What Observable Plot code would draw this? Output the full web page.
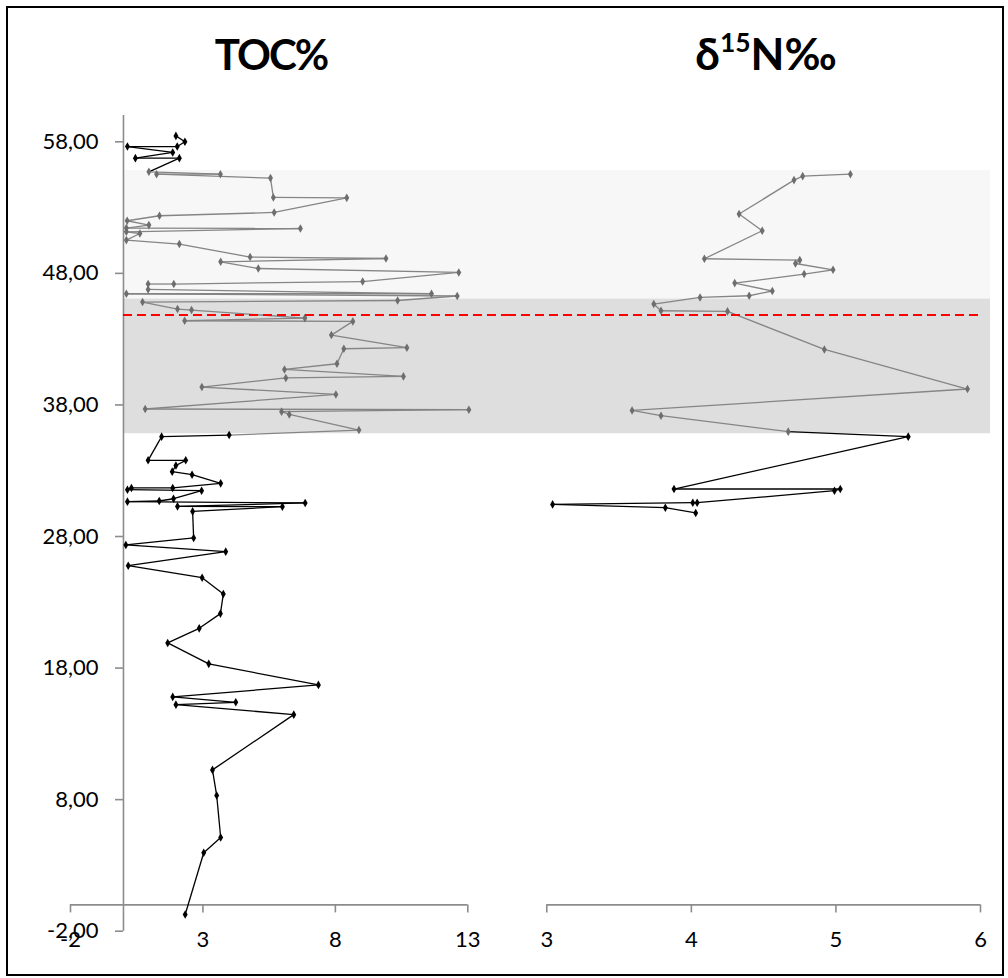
<!DOCTYPE html>
<html>
<head>
<meta charset="utf-8">
<script src="https://cdn.jsdelivr.net/npm/d3@7"></script>
<script src="https://cdn.jsdelivr.net/npm/@observablehq/plot@0.6"></script>
<style>
  body { margin: 0; background: #fff; }
  #chart { position: relative; width: 1008px; height: 978px; background: #fff; font-family: Lato, "Open Sans", sans-serif; overflow: hidden; }
  #border { position: absolute; left: 6px; top: 6px; width: 998px; height: 970px; box-sizing: border-box; border: 2px solid #000; pointer-events: none; z-index: 3; }
  .title { position: absolute; top: 31px; font-weight: 700; font-size: 44px; line-height: 44px; white-space: nowrap; transform: translateX(-50%); z-index: 2; color: #000; }
  .title.narrow { font-size: 42px; letter-spacing: -2px; top: 32px; }
  .title sup { font-size: 0.6em; line-height: 0; position: relative; top: -0.1em; }
  #chart svg { position: absolute; top: 0; }
</style>
</head>
<body>
<div id="chart">
  <div class="title narrow" style="left:271px">TOC%</div>
  <div class="title" style="left:766px">δ<sup>15</sup>N‰</div>
  <div id="left"></div>
  <div id="right"></div>
  <div id="border"></div>
</div>
<script>
// Core depths (top-down) and total organic carbon, %
const tocDepth = [58.45, 58.00, 57.64, 57.64, 57.19, 56.76, 56.76,
  55.72, 55.54, 55.54, 55.24, 53.77, 53.74, 52.63, 52.38, 52.00, 51.67,
  51.44, 51.41, 51.16, 51.03, 50.53, 50.23, 49.24, 49.13, 48.88, 48.37,
  48.07, 47.38, 47.19, 47.19, 46.78, 46.45, 46.45, 46.28, 45.94, 45.82,
  45.29, 45.21, 44.60, 44.40, 44.35, 43.31, 42.35, 42.27, 41.13, 40.70,
  40.17, 40.05, 39.36, 38.80, 37.69, 37.64, 37.49, 37.28, 36.09, 35.71,
  35.59, 33.79, 33.79, 33.40, 32.93, 32.70, 32.04, 31.69, 31.69, 31.56,
  31.48, 30.87, 30.70, 30.65, 30.55, 30.29, 30.27, 29.91, 27.89, 27.36,
  26.85, 25.78, 24.87, 23.63, 22.14, 21.02, 19.91, 18.32, 16.72, 15.81,
  15.40, 15.22, 14.46, 10.26, 8.31, 5.12, 3.96, -0.73];
const toc = [1.98, 2.32, 2.03, 0.15, 1.86, 0.45, 2.11,
  0.96, 3.66, 1.25, 5.55, 5.66, 8.43, 5.69, 1.36, 0.14, 0.96,
  0.11, 6.68, 0.11, 0.62, 0.11, 2.11, 4.78, 9.91, 3.67, 5.09,
  12.66, 9.03, 1.90, 0.93, 0.93, 11.63, 0.11, 12.60, 10.35, 0.72,
  2.04, 2.57, 6.85, 2.31, 8.66, 7.85, 10.70, 8.32, 8.06, 6.08,
  10.57, 6.13, 2.96, 8.02, 0.82, 13.04, 5.97, 6.26, 8.89, 3.99,
  1.44, 0.93, 2.35, 1.98, 1.84, 2.59, 3.67, 1.86, 0.30, 0.15,
  2.95, 1.89, 1.35, 0.15, 6.86, 2.04, 6.00, 2.61, 2.65, 0.09,
  3.86, 0.18, 2.97, 3.77, 3.66, 2.86, 1.67, 3.22, 7.36, 1.86,
  4.24, 1.98, 6.43, 3.36, 3.52, 3.67, 3.03, 2.33];

// Core depths (top-down) and nitrogen isotope ratio, ‰
const d15nDepth = [55.54, 55.39, 55.09, 52.51, 51.24, 49.11, 49.01, 48.75,
  48.27, 47.95, 47.26, 46.66, 46.30, 46.17, 45.67, 45.16, 45.11, 42.22,
  39.21, 37.58, 37.18, 35.97, 35.59, 31.61, 31.61, 31.48, 30.57, 30.57,
  30.44, 30.19, 29.79];
const d15n = [5.10, 4.77, 4.71, 4.33, 4.49, 4.09, 4.75, 4.72,
  4.98, 4.78, 4.30, 4.56, 4.40, 4.06, 3.74, 3.79, 4.25, 4.92,
  5.91, 3.59, 3.79, 4.67, 5.50, 3.88, 5.03, 4.99, 4.04, 4.01,
  3.04, 3.82, 4.03];

// Shaded depth intervals and the boundary marked with a dashed line
const bandNames = ["upper", "lower"];
const bandBase = [46.05, 35.81];
const bandTopDepth = [55.82, 46.05];
const boundaryDepth = [44.84];

// Axis ticks
const depthTicks = [-2, 8, 18, 28, 38, 48, 58];
const tocTicks = [-2, 3, 8, 13];
const d15nTicks = [3, 4, 5, 6];

const depthDomain = [-2, 60];
const tocDomain = [-2, 13];
const d15nDomain = [3, 6];

const BLACK = "#000000";
const GRAY_LINE = "#858585";
const GRAY_DOT = "#6e6e6e";
const AXIS = "#8c8c8c";
const BAND_FILL = {upper: "#f7f7f7", lower: "#dedede"};

const locale = d3.formatLocale({decimal: ",", thousands: ".", grouping: [3], currency: ["", ""], minus: "-"});
const fmtDepth = locale.format(".2f");
const fmtTick = locale.format("d");

const bands = bandNames.map((name, i) => ({name, from: bandBase[i], to: bandTopDepth[i]}));
const shaded = (d) => d >= d3.min(bandBase) && d <= d3.max(bandTopDepth);

function points(depths, values) {
  return depths.map((depth, i) => ({depth, v: values[i], mid: shaded(depth)}));
}
// Each connecting segment takes the colour of one of its two samples
function segments(pts, colourFrom) {
  return d3.pairs(pts).map(([a, b]) => ({
    x1: a.v, y1: a.depth, x2: b.v, y2: b.depth,
    mid: (colourFrom === "start" ? a : b).mid
  }));
}

const H = 978;
const marginTop = 115;
const marginBottom = 47.3;
const fontStyle = {fontFamily: "Lato, 'Open Sans', sans-serif", fontSize: "22px", background: "transparent", overflow: "visible"};

function seriesMarks(pts, colourFrom) {
  return [
    Plot.link(segments(pts, colourFrom), {
      x1: "x1", y1: "y1", x2: "x2", y2: "y2",
      stroke: (d) => d.mid ? GRAY_LINE : BLACK, strokeWidth: 1.3
    }),
    Plot.dot(pts, {
      x: "v", y: "depth", symbol: "diamond", r: 2.6,
      fill: (d) => d.mid ? GRAY_DOT : BLACK, stroke: null
    })
  ];
}

// TOC panel
const tocPts = points(tocDepth, toc);
const leftWidth = 507;
const leftPlot = Plot.plot({
  width: leftWidth, height: H,
  marginLeft: 70, marginRight: leftWidth - 467.3, marginTop, marginBottom,
  style: fontStyle,
  color: {type: "identity"},
  x: {domain: tocDomain},
  y: {domain: depthDomain, axis: null},
  marks: [
    Plot.rect(bands, {x1: () => 0, x2: () => tocDomain[1], y1: "from", y2: "to",
      fill: (d) => BAND_FILL[d.name], insetRight: -(leftWidth - 467.3)}),
    // axes crossing at zero
    Plot.ruleX([0], {stroke: AXIS, strokeWidth: 1.6}),
    Plot.ruleY(depthTicks, {x1: () => 0, x2: () => 0, insetLeft: -8, stroke: AXIS, strokeWidth: 1.6}),
    Plot.text(depthTicks, {x: () => 0, y: (d) => d, text: fmtDepth, textAnchor: "end", dx: -25, fill: "#000"}),
    Plot.ruleY([0], {stroke: AXIS, strokeWidth: 1.6}),
    Plot.ruleX(tocTicks, {y1: () => 0, y2: () => 0, insetBottom: -8, stroke: AXIS, strokeWidth: 1.6}),
    Plot.axisX(tocTicks, {tickSize: 0, tickPadding: 0, tickFormat: fmtTick, fill: "#000"}),
    ...seriesMarks(tocPts, "start"),
    Plot.ruleY(boundaryDepth, {x1: () => 0, x2: () => tocDomain[1], insetRight: -(leftWidth - 467.3),
      stroke: "#ff0000", strokeWidth: 2, strokeDasharray: "9,5"})
  ]
});
leftPlot.style.left = "0px";
document.getElementById("left").appendChild(leftPlot);

// δ15N panel
const d15nPts = points(d15nDepth, d15n);
const rightWidth = 1008 - leftWidth;
const rightMarginLeft = 546.3 - leftWidth;
const rightPlot = Plot.plot({
  width: rightWidth, height: H,
  marginLeft: rightMarginLeft, marginRight: 1008 - 980, marginTop, marginBottom,
  style: fontStyle,
  color: {type: "identity"},
  x: {domain: d15nDomain},
  y: {domain: depthDomain, axis: null},
  marks: [
    Plot.rect(bands, {y1: "from", y2: "to", fill: (d) => BAND_FILL[d.name],
      insetLeft: -rightMarginLeft, insetRight: -10}),
    Plot.ruleY([0], {stroke: AXIS, strokeWidth: 1.6}),
    Plot.ruleX(d15nTicks, {y1: () => 0, y2: () => 0, insetBottom: -8, stroke: AXIS, strokeWidth: 1.6}),
    Plot.axisX(d15nTicks, {tickSize: 0, tickPadding: 0, tickFormat: fmtTick, fill: "#000"}),
    ...seriesMarks(d15nPts, "end"),
    Plot.ruleY(boundaryDepth, {insetLeft: -rightMarginLeft, insetRight: -3,
      stroke: "#ff0000", strokeWidth: 2, strokeDasharray: "9,5"})
  ]
});
rightPlot.style.left = leftWidth + "px";
document.getElementById("right").appendChild(rightPlot);
</script>
</body>
</html>
